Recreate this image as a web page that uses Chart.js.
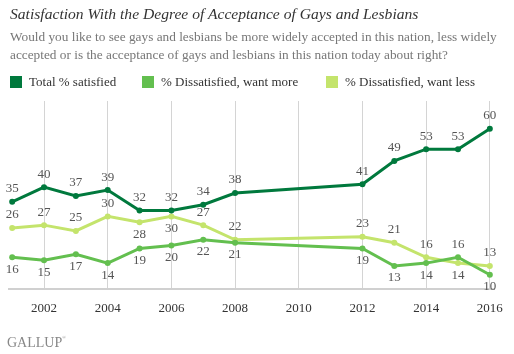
<!DOCTYPE html>
<html>
<head>
<meta charset="utf-8">
<script src="https://cdn.jsdelivr.net/npm/chart.js@4"></script>
<style>
  body { margin: 0; background: #fff; }
  #wrap { position: relative; width: 514px; height: 354px; overflow: hidden; }
  canvas { position: absolute; left: 0; top: 0; }
  .title { position: absolute; left: 10px; top: 5px; font: italic 15.6px "Liberation Serif", serif; color: #333; white-space: nowrap; }
  .sub { position: absolute; left: 10px; top: 28px; width: 504px; font: 13.3px "Liberation Serif", serif; color: #777; line-height: 18px; }
  .legend { position: absolute; top: 74px; font: 13px "Liberation Serif", serif; color: #333; white-space: nowrap; }
  .legend span { display: inline-block; width: 12px; height: 12px; vertical-align: -2px; margin-right: 7px; }
  .logo { position: absolute; left: 7px; top: 335px; font: 14px "Liberation Serif", serif; color: #888; }
  .logo sup { font-size: 5px; vertical-align: 8px; }
</style>
</head>
<body>
<div id="wrap">
  <canvas id="graph" width="514" height="354"></canvas>
  <div class="title">Satisfaction With the Degree of Acceptance of Gays and Lesbians</div>
  <div class="sub">Would you like to see gays and lesbians be more widely accepted in this nation, less widely accepted or is the acceptance of gays and lesbians in this nation today about right?</div>
  <div class="legend" style="left:10px"><span style="background:#00793d"></span>Total % satisfied</div>
  <div class="legend" style="left:142px"><span style="background:#63bf4f"></span>% Dissatisfied, want more</div>
  <div class="legend" style="left:326px"><span style="background:#c4e46c"></span>% Dissatisfied, want less</div>
  <div class="logo">GALLUP<sup>®</sup></div>
</div>
<script>
var years = [2001, 2002, 2003, 2004, 2005, 2006, 2007, 2008, 2012, 2013, 2014, 2015, 2016];
var satisfied = [35, 40, 37, 39, 32, 32, 34, 38, 41, 49, 53, 53, 60];
var wantMore = [16, 15, 17, 14, 19, 20, 22, 21, 19, 13, 14, 16, 10];
var wantLess = [26, 27, 25, 30, 28, 30, 27, 22, 23, 21, 16, 14, 13];
var tickYears = [2002, 2004, 2006, 2008, 2010, 2012, 2014, 2016];

// where each value label goes: 1 = above the point, -1 = below
var posSatisfied = [1, 1, 1, 1, 1, 1, 1, 1, 1, 1, 1, 1, 1];
var posMore = [-1, -1, -1, -1, -1, -1, -1, -1, -1, -1, -1, 1, -1];
var posLess = [1, 1, 1, 1, -1, -1, 1, 1, 1, 1, 1, -1, 1];

function pts(arr) {
    return arr.map((v, i) => ({x: years[i], y: v}));
}

function dset(label, arr, color, pos) {
    return {
        label: label,
        data: pts(arr),
        borderColor: color,
        backgroundColor: color,
        borderWidth: 3,
        pointRadius: 3,
        pointBorderWidth: 0,
        pointHoverRadius: 3,
        tension: 0,
        labelPos: pos
    };
}

// draws the numbers next to every point
const valueLabels = {
    id: 'valueLabels',
    afterDatasetsDraw(chart) {
        const ctx = chart.ctx;
        ctx.save();
        ctx.font = '13px "Liberation Serif", serif';
        ctx.fillStyle = '#555';
        ctx.textAlign = 'center';
        ctx.textBaseline = 'middle';
        chart.data.datasets.forEach((ds, di) => {
            chart.getDatasetMeta(di).data.forEach((p, i) => {
                const off = ds.labelPos[i] > 0 ? -13 : 12;
                ctx.fillText(ds.data[i].y, p.x, p.y + off);
            });
        });
        ctx.restore();
    }
};

new Chart(document.getElementById('graph'), {
    type: 'line',
    data: {
        datasets: [
            dset('Total % satisfied', satisfied, '#00793d', posSatisfied),
            dset('% Dissatisfied, want more', wantMore, '#63bf4f', posMore),
            dset('% Dissatisfied, want less', wantLess, '#c4e46c', posLess)
        ]
    },
    options: {
        responsive: false,
        animation: false,
        layout: { padding: { left: 9, right: 17, top: 101, bottom: 27 } },
        plugins: { legend: { display: false }, tooltip: { enabled: false } },
        scales: {
            x: {
                type: 'linear',
                min: 2000.9,
                max: 2016.16,
                afterBuildTicks: scale => { scale.ticks = tickYears.map(v => ({value: v})); },
                grid: { color: '#d4d4d4', lineWidth: 1, drawTicks: false },
                border: { color: '#d0d0d0', width: 2 },
                ticks: {
                    padding: 11,
                    color: '#333',
                    font: { family: '"Liberation Serif", serif', size: 13 },
                    callback: v => v
                }
            },
            y: {
                display: false,
                min: 5,
                max: 69.5
            }
        }
    },
    plugins: [valueLabels]
});
</script>
</body>
</html>
